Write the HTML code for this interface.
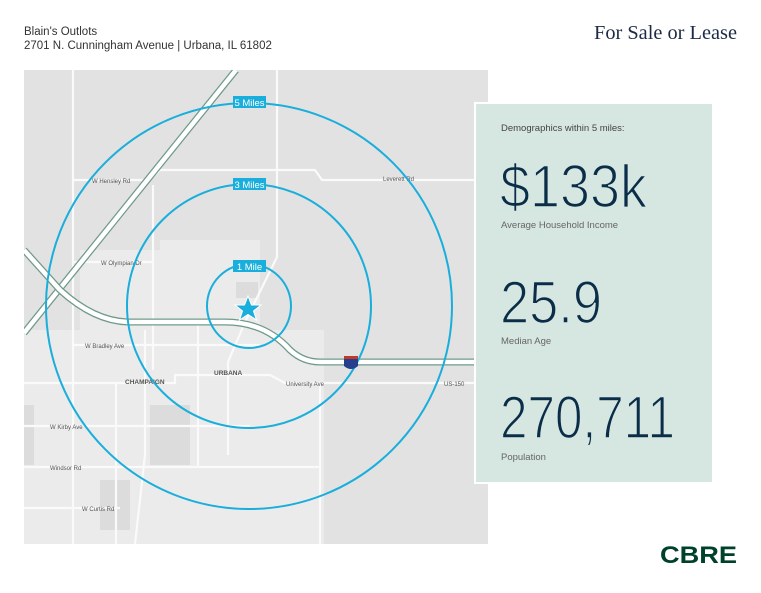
<!DOCTYPE html>
<html><head><meta charset="utf-8"><style>
html,body{margin:0;padding:0;background:#fff;}
body{width:761px;height:588px;overflow:hidden;font-family:"Liberation Sans",sans-serif;}
.big{font-family:"Liberation Sans",sans-serif;stroke:#d6e6e1;stroke-width:1.6px;}
</style></head><body>
<svg width="761" height="588" viewBox="0 0 761 588" xmlns="http://www.w3.org/2000/svg" font-family="Liberation Sans, sans-serif">
<rect width="761" height="588" fill="#fff"/>
<text x="24" y="35" font-size="11.5" fill="#333">Blain's Outlots</text>
<text x="24" y="49" font-size="11.5" fill="#333">2701 N. Cunningham Avenue  |  Urbana, IL 61802</text>
<text x="594" y="39" font-size="20" fill="#1d2a44" font-family="Liberation Serif, serif" textLength="143" lengthAdjust="spacingAndGlyphs">For Sale or Lease</text>

<defs><clipPath id="m"><rect x="24" y="70" width="464" height="474"/></clipPath></defs>
<g clip-path="url(#m)">
<rect x="24" y="70" width="464" height="474" fill="#e2e2e2"/>
<g fill="#ebebeb">
<rect x="24" y="330" width="300" height="214"/>
<rect x="160" y="240" width="100" height="90"/>
<rect x="80" y="250" width="80" height="80"/>
<rect x="260" y="370" width="60" height="40"/>
</g>
<g fill="#dcdcdc">
<rect x="236" y="282" width="22" height="16"/>
<rect x="24" y="405" width="10" height="60"/>
<rect x="150" y="405" width="40" height="60"/>
<rect x="100" y="480" width="30" height="50"/>
</g>
<g stroke="#fafafa" stroke-width="2.2" fill="none">
<path d="M73 70V544"/>
<path d="M277 70V257L246 320 228 362V455"/>
<path d="M73 180H150L160 170H315L322 180H488"/>
<path d="M153 185V370"/>
<path d="M73 262H153"/>
<path d="M73 345H260"/>
<path d="M198 320V467"/>
<path d="M24 383H175V375H270L285 383H488"/>
<path d="M24 426H250"/>
<path d="M24 467H320"/>
<path d="M24 508H120"/>
<path d="M320 383V544"/>
<path d="M116 383V544"/>
<path d="M145 330V455L135 544"/>
</g>
<g fill="none">
<path d="M24 333L236 70" stroke="#6f9a8a" stroke-width="7"/>
<path d="M24 333L236 70" stroke="#fff" stroke-width="4.5"/>
<path d="M24 250L60 290Q95 322 130 322H225Q265 322 290 350Q303 362 320 362H488" stroke="#6f9a8a" stroke-width="7"/>
<path d="M24 250L60 290Q95 322 130 322H225Q265 322 290 350Q303 362 320 362H488" stroke="#fff" stroke-width="4.5"/>
</g>
<g font-size="6" fill="#555">
<text x="92" y="183">W Hensley Rd</text>
<text x="383" y="181">Leverett Rd</text>
<text x="101" y="265">W Olympian Dr</text>
<text x="85" y="348">W Bradley Ave</text>
<text x="286" y="386">University Ave</text>
<text x="444" y="386">US-150</text>
<text x="50" y="429">W Kirby Ave</text>
<text x="50" y="470">Windsor Rd</text>
<text x="82" y="511">W Curtis Rd</text>
<text x="125" y="384" font-weight="bold" font-size="6.5">CHAMPAIGN</text>
<text x="214" y="375" font-weight="bold" font-size="6.5">URBANA</text>
</g>
<circle cx="249" cy="306" r="42" fill="none" stroke="#19aedb" stroke-width="2"/>
<circle cx="249" cy="306" r="122" fill="none" stroke="#19aedb" stroke-width="2"/>
<circle cx="249" cy="306" r="203" fill="none" stroke="#19aedb" stroke-width="2"/>
<rect x="233" y="96" width="33" height="12" fill="#19aedb"/>
<text x="249.5" y="106" font-size="9.5" fill="#fff" text-anchor="middle">5 Miles</text>
<rect x="233" y="178" width="33" height="12" fill="#19aedb"/>
<text x="249.5" y="188" font-size="9.5" fill="#fff" text-anchor="middle">3 Miles</text>
<rect x="233" y="260" width="33" height="12" fill="#19aedb"/>
<text x="249.5" y="270" font-size="9.5" fill="#fff" text-anchor="middle">1 Mile</text>
<polygon points="248,296 251.5,305 261,305 253.5,311 256.5,320 248,314.5 239.5,320 242.5,311 235,305 244.5,305" fill="#19aedb" stroke="#fff" stroke-width="1"/>
<path d="M344 358h14v8q-7 6-14 0z" fill="#263f8c"/><rect x="344" y="356" width="14" height="3" fill="#c0392b"/>
</g>

<rect x="475" y="103" width="238" height="380" fill="#d6e6e1" stroke="#fff" stroke-width="2"/>
<g fill="#0a2d48">
<text x="501" y="131" font-size="9.5" fill="#444">Demographics within 5 miles:</text>
<text class="big" x="500" y="207" font-size="60" textLength="147" lengthAdjust="spacingAndGlyphs">$133k</text>
<text x="501" y="228" font-size="9.5" fill="#666">Average Household Income</text>
<text class="big" x="500" y="323" font-size="60" textLength="102" lengthAdjust="spacingAndGlyphs">25.9</text>
<text x="501" y="344" font-size="9.5" fill="#666">Median Age</text>
<text class="big" x="500" y="438" font-size="60" textLength="175" lengthAdjust="spacingAndGlyphs">270,711</text>
<text x="501" y="460" font-size="9.5" fill="#666">Population</text>
</g>
<text x="660" y="563" font-size="24" font-weight="bold" fill="#00412a" textLength="77" lengthAdjust="spacingAndGlyphs">CBRE</text>
</svg>
</body></html>
